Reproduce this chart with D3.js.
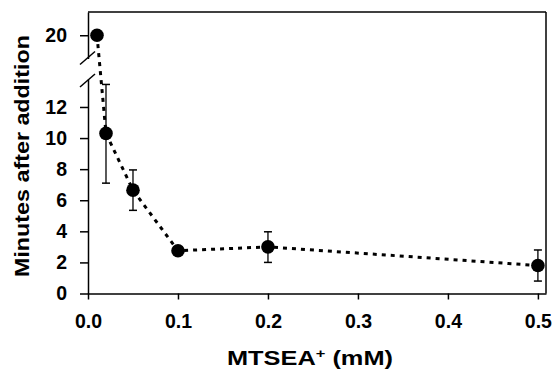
<!DOCTYPE html>
<html><head><meta charset="utf-8">
<script src="https://cdn.jsdelivr.net/npm/d3@7"></script>
<style>
html,body{margin:0;padding:0;background:#fff;}
svg{display:block;font-family:"Liberation Sans",Arial,sans-serif;}
</style></head>
<body><svg id="c" width="554" height="371"></svg>
<script>
// data
const conc   = [0.01, 0.02, 0.05, 0.1, 0.2, 0.5];
const minutes = [20, 10.3, 6.65, 2.75, 3.0, 1.8];
const errHigh = [null, 13.45, 7.95, null, 3.97, 2.8];
const errLow  = [null, 7.1, 5.35, null, 2.0, 0.8];
const xTicks = [0, 0.1, 0.2, 0.3, 0.4, 0.5];
const yTicksLower = [0, 2, 4, 6, 8, 10, 12];
const yTicksUpper = [20];
const xTitle = "MTSEA";
const yTitle = "Minutes after addition";

const svg = d3.select("#c");
const x = d3.scaleLinear().domain([0, 0.509]).range([88, 546]);
const yLo = d3.scaleLinear().domain([0, 13.8]).range([293.5, 79]);
const yHi = d3.scaleLinear().domain([18.5, 21.5]).range([58.5, 12]);
const yy = v => v >= 15 ? yHi(v) : yLo(v);

const fontSz = 19.5;
function styleAxis(g){
  g.selectAll("text").attr("font-size", fontSz).attr("font-weight", "bold")
   .attr("font-family", '"Liberation Sans",Arial,sans-serif').attr("fill", "#000");
  g.selectAll("line").attr("stroke", "#000").attr("stroke-width", 1.5);
  g.selectAll("path.domain").attr("stroke", "#000").attr("stroke-width", 1.5);
}

// x axis
svg.append("g").attr("transform", `translate(0,${yLo(0)})`)
  .call(d3.axisBottom(x).tickValues(xTicks).tickFormat(d3.format(".1f")).tickSize(6).tickSizeOuter(0).tickPadding(14.5))
  .call(styleAxis);
// y axes
svg.append("g").attr("transform", `translate(${x(0)},0)`)
  .call(d3.axisLeft(yLo).tickValues(yTicksLower).tickFormat(d3.format("d")).tickSize(8).tickSizeOuter(0).tickPadding(13))
  .call(styleAxis);
svg.append("g").attr("transform", `translate(${x(0)},0)`)
  .call(d3.axisLeft(yHi).tickValues(yTicksUpper).tickFormat(d3.format("d")).tickSize(8).tickSizeOuter(0).tickPadding(13))
  .call(styleAxis);

// frame top and right
const x1 = x.range()[1];
svg.append("line").attr("x1", x(0)).attr("x2", x1).attr("y1", yHi.range()[1]).attr("y2", yHi.range()[1])
  .attr("stroke", "#000").attr("stroke-width", 1.5);
svg.append("line").attr("x1", x1).attr("x2", x1).attr("y1", yHi.range()[1]).attr("y2", yLo(0))
  .attr("stroke", "#000").attr("stroke-width", 1.5);

// break marks
const bx = x(0);
[yHi.range()[0] + 6, yLo.range()[1] + 8].forEach(by => {
  svg.append("line").attr("x1", bx - 8).attr("y1", by).attr("x2", bx + 7).attr("y2", by - 13)
    .attr("stroke", "#000").attr("stroke-width", 1.5);
});

// dotted line
svg.append("path")
  .datum(conc.map((c, i) => [x(c), yy(minutes[i])]))
  .attr("d", d3.line())
  .attr("fill", "none").attr("stroke", "#000").attr("stroke-width", 3)
  .attr("stroke-dasharray", "4,5");

// error bars
conc.forEach((c, i) => {
  if (errHigh[i] == null) return;
  const cx = x(c), t = yy(errHigh[i]), b = yy(errLow[i]);
  svg.append("line").attr("x1", cx).attr("x2", cx).attr("y1", t).attr("y2", b).attr("stroke", "#000").attr("stroke-width", 1.3);
  [t, b].forEach(v => svg.append("line").attr("x1", cx - 4).attr("x2", cx + 4).attr("y1", v).attr("y2", v)
    .attr("stroke", "#000").attr("stroke-width", 1.5));
});

// points
svg.selectAll("circle.pt").data(conc).enter().append("circle")
  .attr("cx", d => x(d)).attr("cy", (d, i) => yy(minutes[i])).attr("r", 6.8).attr("fill", "#000");

// titles
const xt = svg.append("text").attr("x", 310).attr("y", 365).attr("text-anchor", "middle")
  .attr("font-size", 20).attr("font-weight", "bold").attr("fill", "#000")
  .attr("textLength", 166).attr("lengthAdjust", "spacingAndGlyphs");
xt.append("tspan").text(xTitle);
xt.append("tspan").attr("font-size", 13).attr("dy", -7).text("+");
xt.append("tspan").attr("dy", 7).text(" (mM)");

svg.append("text").attr("transform", "translate(29,156) rotate(-90)").attr("text-anchor", "middle")
  .attr("font-size", 20).attr("font-weight", "bold").attr("fill", "#000")
  .attr("textLength", 242).attr("lengthAdjust", "spacingAndGlyphs").text(yTitle);
</script></body></html>
